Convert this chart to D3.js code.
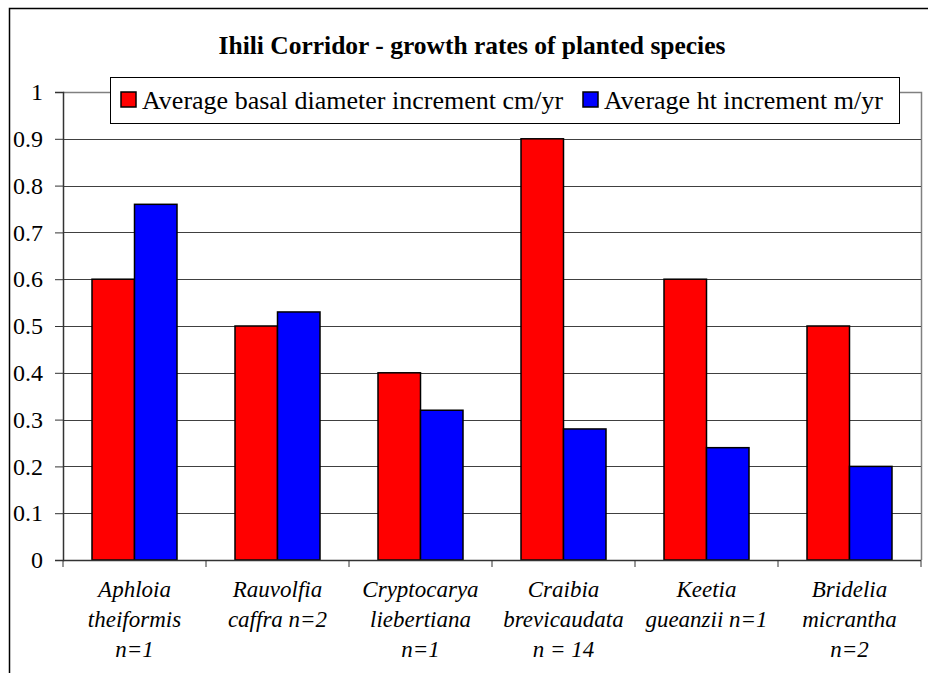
<!DOCTYPE html>
<html><head><meta charset="utf-8"><script src="https://cdn.jsdelivr.net/npm/d3@7"></script></head>
<body style="margin:0">
<script>
// species labels (lines of each category label)
const species = [
  ["Aphloia", "theiformis", "n=1"],
  ["Rauvolfia", "caffra n=2"],
  ["Cryptocarya", "liebertiana", "n=1"],
  ["Craibia", "brevicaudata", "n = 14"],
  ["Keetia", "gueanzii n=1"],
  ["Bridelia", "micrantha", "n=2"]
];
const seriesNames = ["Average basal diameter increment cm/yr", "Average ht increment m/yr"];
const basalDiameter = [0.6, 0.5, 0.4, 0.9, 0.6, 0.5];
const heightInc = [0.76, 0.53, 0.32, 0.28, 0.24, 0.20];
const yTicks = [0, 0.1, 0.2, 0.3, 0.4, 0.5, 0.6, 0.7, 0.8, 0.9, 1];
const colors = ["#ff0000", "#0000ff"];

const FONT = "Liberation Serif";
const width = 928, height = 673;
const plot = { left: 63, right: 921, top: 92, bottom: 560 };

const svg = d3.select("body").append("svg")
  .attr("width", width)
  .attr("height", height)
  .style("display", "block");

// outer chart frame
svg.append("rect")
  .attr("x", 9.5).attr("y", 8.5)
  .attr("width", 940).attr("height", 700)
  .attr("fill", "#fff")
  .attr("stroke", "#000")
  .attr("stroke-width", 1.5);

let y = d3.scaleLinear().domain([0, 1]).range([plot.bottom, plot.top]);
let x0 = d3.scaleBand().domain(d3.range(species.length)).range([plot.left, plot.right]);
let x1 = d3.scaleBand().domain([0, 1]).range([29, x0.bandwidth() - 29]);

// plot area border (gray top/right)
svg.append("path")
  .attr("d", "M" + plot.left + "," + (plot.top + 0.5) + "H" + (plot.right + 0.5) + "V" + plot.bottom)
  .attr("fill", "none")
  .attr("stroke", "#808080")
  .attr("stroke-width", 1.5);

// gridlines
svg.append("g")
  .selectAll("line")
  .data(yTicks.filter(d => d > 0 && d < 1))
  .enter().append("line")
  .attr("x1", plot.left).attr("x2", plot.right)
  .attr("y1", d => Math.round(y(d)) + 0.5)
  .attr("y2", d => Math.round(y(d)) + 0.5)
  .attr("stroke", "#404040")
  .attr("stroke-width", 1);

// bars
let data = species.map((s, i) => [basalDiameter[i], heightInc[i]]);
let groups = svg.append("g")
  .selectAll("g")
  .data(data)
  .enter().append("g")
  .attr("transform", (d, i) => "translate(" + x0(i) + ",0)");

groups.selectAll("rect")
  .data(d => d)
  .enter().append("rect")
  .attr("x", (d, j) => x1(j))
  .attr("y", d => y(d))
  .attr("width", x1.bandwidth())
  .attr("height", d => y(0) - y(d))
  .attr("fill", (d, j) => colors[j])
  .attr("stroke", "#000")
  .attr("stroke-width", 1.5);

// y axis
let yAxis = d3.axisLeft(y)
  .tickValues(yTicks)
  .tickSize(8)
  .tickPadding(12)
  .tickFormat(d => String(+d.toFixed(1)));

let yg = svg.append("g")
  .attr("transform", "translate(" + plot.left + ",0)")
  .call(yAxis);
yg.select(".domain").attr("stroke", "#333").attr("stroke-width", 1.5);
yg.selectAll(".tick line").attr("stroke", "#333");
yg.selectAll("text")
  .attr("fill", "#000")
  .style("font-family", FONT)
  .style("font-size", "24px");

// x axis with ticks at category boundaries
let xg = svg.append("g");
xg.append("line")
  .attr("x1", plot.left).attr("x2", plot.right)
  .attr("y1", plot.bottom + 0.5).attr("y2", plot.bottom + 0.5)
  .attr("stroke", "#333").attr("stroke-width", 1.5);
xg.selectAll(".xt")
  .data(d3.range(species.length + 1))
  .enter().append("line")
  .attr("x1", d => plot.left + d * x0.step())
  .attr("x2", d => plot.left + d * x0.step())
  .attr("y1", plot.bottom).attr("y2", plot.bottom + 7)
  .attr("stroke", "#333");

species.forEach((lines, i) => {
  lines.forEach((line, k) => {
    xg.append("text")
      .attr("x", x0(i) + x0.bandwidth() / 2)
      .attr("y", 597 + k * 30)
      .attr("text-anchor", "middle")
      .style("font-family", FONT)
      .style("font-style", "italic")
      .style("font-size", "23px")
      .text(line);
  });
});

// title
svg.append("text")
  .attr("x", 472)
  .attr("y", 54)
  .attr("text-anchor", "middle")
  .style("font-family", FONT)
  .style("font-weight", "bold")
  .style("font-size", "25.5px")
  .text("Ihili Corridor - growth rates of planted species");

// legend
let lg = svg.append("g");
lg.append("rect")
  .attr("x", 110.5).attr("y", 77.5)
  .attr("width", 789).attr("height", 46)
  .attr("fill", "#fff")
  .attr("stroke", "#000")
  .attr("stroke-width", 1);
let legendX = [121, 583];
seriesNames.forEach((name, j) => {
  lg.append("rect")
    .attr("x", legendX[j]).attr("y", 92)
    .attr("width", 15).attr("height", 15)
    .attr("fill", colors[j])
    .attr("stroke", "#000")
    .attr("stroke-width", 1.5);
  lg.append("text")
    .attr("x", legendX[j] + 21)
    .attr("y", 109)
    .style("font-family", FONT)
    .style("font-size", "26px")
    .text(name);
});
</script>
</body>
</html>
